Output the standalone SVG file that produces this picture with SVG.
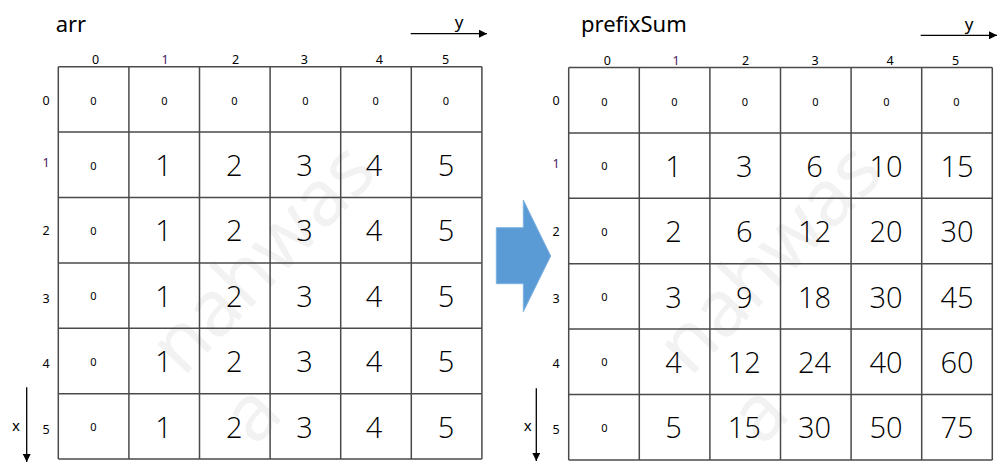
<svg xmlns="http://www.w3.org/2000/svg" width="1003" height="467" viewBox="0 0 1003 467">
<style>
text{font-family:"Noto Sans","Open Sans","DejaVu Sans",sans-serif;fill:#000}
.title{font-size:22px}
.hdr{font-size:12.5px;text-anchor:middle}
.z{font-size:11px;text-anchor:middle}
.big{font-family:"Open Sans","Noto Sans",sans-serif;font-weight:300;font-size:29px;text-anchor:middle}
.ax{font-size:15px;text-anchor:middle}
.ay{font-size:17px;text-anchor:middle}
.p{fill:#4a2260}
.grid line{stroke:#4a4a4a;stroke-width:1.5}
.wm{font-size:78px;fill:#f2f2f2}
.arr{stroke:#000;stroke-width:1.3;fill:none}
</style>
<defs>
<marker id="ah" viewBox="0 0 10 10" refX="10" refY="5" markerWidth="8" markerHeight="8" markerUnits="userSpaceOnUse" orient="auto">
<path d="M0,0 L10,5 L0,10 z" fill="#000"/>
</marker>
</defs>
<rect width="1003" height="467" fill="#fff"/>
<g id="watermark">
<g transform="translate(183,378) rotate(-46)"><text class="wm" x="0" y="0">nahwas</text><text class="wm" x="0" y="100">a</text></g>
<g transform="translate(690,378) rotate(-46)"><text class="wm" x="0" y="0">nahwas</text><text class="wm" x="0" y="100">a</text></g>
</g>
<g id="arr">
<text class="title" x="55.7" y="32">arr</text>
<g class="grid">
<line x1="58.3" y1="66.7" x2="58.3" y2="459.1"/><line x1="128.9" y1="66.7" x2="128.9" y2="459.1"/><line x1="199.5" y1="66.7" x2="199.5" y2="459.1"/><line x1="270.1" y1="66.7" x2="270.1" y2="459.1"/><line x1="340.7" y1="66.7" x2="340.7" y2="459.1"/><line x1="411.3" y1="66.7" x2="411.3" y2="459.1"/><line x1="481.9" y1="66.7" x2="481.9" y2="459.1"/>
<line x1="58.3" y1="66.7" x2="481.9" y2="66.7"/><line x1="58.3" y1="132.1" x2="481.9" y2="132.1"/><line x1="58.3" y1="197.5" x2="481.9" y2="197.5"/><line x1="58.3" y1="262.9" x2="481.9" y2="262.9"/><line x1="58.3" y1="328.3" x2="481.9" y2="328.3"/><line x1="58.3" y1="393.7" x2="481.9" y2="393.7"/><line x1="58.3" y1="459.1" x2="481.9" y2="459.1"/>
</g>
<text class="hdr" x="95.7" y="63.5">0</text><text class="hdr p" x="165" y="63.5">1</text><text class="hdr" x="235.7" y="63.5">2</text><text class="hdr" x="304.3" y="63.5">3</text><text class="hdr" x="379.3" y="63.5">4</text><text class="hdr" x="445.7" y="63.5">5</text>
<text class="hdr" x="46" y="104.5">0</text><text class="hdr p" x="46" y="166.8">1</text><text class="hdr" x="46" y="235.2">2</text><text class="hdr" x="46" y="302.8">3</text><text class="hdr" x="46" y="367.8">4</text><text class="hdr" x="46" y="433.5">5</text>
<text class="z" x="93.3" y="105">0</text><text class="z" x="164.3" y="105">0</text><text class="z" x="234.3" y="105">0</text><text class="z" x="305.3" y="105">0</text><text class="z" x="375.7" y="105">0</text><text class="z" x="446" y="105">0</text>
<text class="z" x="93.3" y="169.5">0</text><text class="z" x="93.3" y="234.8">0</text><text class="z" x="93.3" y="300.2">0</text><text class="z" x="93.3" y="365.6">0</text><text class="z" x="93.3" y="431">0</text>
<text class="big" x="163.5" y="176">1</text><text class="big" x="234.3" y="176">2</text><text class="big" x="304.5" y="176">3</text><text class="big" x="374" y="176">4</text><text class="big" x="446" y="176">5</text>
<text class="big" x="163.5" y="241.4">1</text><text class="big" x="234.3" y="241.4">2</text><text class="big" x="304.5" y="241.4">3</text><text class="big" x="374" y="241.4">4</text><text class="big" x="446" y="241.4">5</text>
<text class="big" x="163.5" y="306.8">1</text><text class="big" x="234.3" y="306.8">2</text><text class="big" x="304.5" y="306.8">3</text><text class="big" x="374" y="306.8">4</text><text class="big" x="446" y="306.8">5</text>
<text class="big" x="163.5" y="372.2">1</text><text class="big" x="234.3" y="372.2">2</text><text class="big" x="304.5" y="372.2">3</text><text class="big" x="374" y="372.2">4</text><text class="big" x="446" y="372.2">5</text>
<text class="big" x="163.5" y="437.6">1</text><text class="big" x="234.3" y="437.6">2</text><text class="big" x="304.5" y="437.6">3</text><text class="big" x="374" y="437.6">4</text><text class="big" x="446" y="437.6">5</text>
</g>
<g id="prefixSum">
<text class="title" x="581" y="32.3">prefixSum</text>
<g class="grid">
<line x1="568.7" y1="67.5" x2="568.7" y2="459.9"/><line x1="639.3" y1="67.5" x2="639.3" y2="459.9"/><line x1="709.9" y1="67.5" x2="709.9" y2="459.9"/><line x1="780.5" y1="67.5" x2="780.5" y2="459.9"/><line x1="851.1" y1="67.5" x2="851.1" y2="459.9"/><line x1="921.7" y1="67.5" x2="921.7" y2="459.9"/><line x1="992.3" y1="67.5" x2="992.3" y2="459.9"/>
<line x1="568.7" y1="67.5" x2="992.3" y2="67.5"/><line x1="568.7" y1="132.9" x2="992.3" y2="132.9"/><line x1="568.7" y1="198.3" x2="992.3" y2="198.3"/><line x1="568.7" y1="263.7" x2="992.3" y2="263.7"/><line x1="568.7" y1="329.1" x2="992.3" y2="329.1"/><line x1="568.7" y1="394.5" x2="992.3" y2="394.5"/><line x1="568.7" y1="459.9" x2="992.3" y2="459.9"/>
</g>
<text class="hdr" x="607.3" y="64.5">0</text><text class="hdr p" x="676" y="64.5">1</text><text class="hdr" x="745.7" y="64.5">2</text><text class="hdr" x="815" y="64.5">3</text><text class="hdr" x="890" y="64.5">4</text><text class="hdr" x="955.7" y="64.5">5</text>
<text class="hdr" x="556" y="105">0</text><text class="hdr p" x="556" y="167.5">1</text><text class="hdr" x="556" y="235.5">2</text><text class="hdr" x="556" y="303">3</text><text class="hdr" x="556" y="368">4</text><text class="hdr" x="556" y="433.5">5</text>
<text class="z" x="604.3" y="105.5">0</text><text class="z" x="674.3" y="105.5">0</text><text class="z" x="745" y="105.5">0</text><text class="z" x="815.5" y="105.5">0</text><text class="z" x="886.3" y="105.5">0</text><text class="z" x="956.5" y="105.5">0</text>
<text class="z" x="604.3" y="170.2">0</text><text class="z" x="604.3" y="235.6">0</text><text class="z" x="604.3" y="301">0</text><text class="z" x="604.3" y="366.4">0</text><text class="z" x="604.3" y="431.8">0</text>
<text class="big" x="673.5" y="176.8">1</text><text class="big" x="744.3" y="176.8">3</text><text class="big" x="814.5" y="176.8">6</text><text class="big" x="886" y="176.8">10</text><text class="big" x="957" y="176.8">15</text>
<text class="big" x="673.5" y="242.2">2</text><text class="big" x="744.3" y="242.2">6</text><text class="big" x="814.5" y="242.2">12</text><text class="big" x="886" y="242.2">20</text><text class="big" x="957" y="242.2">30</text>
<text class="big" x="673.5" y="307.6">3</text><text class="big" x="744.3" y="307.6">9</text><text class="big" x="814.5" y="307.6">18</text><text class="big" x="886" y="307.6">30</text><text class="big" x="957" y="307.6">45</text>
<text class="big" x="673.5" y="373">4</text><text class="big" x="744.3" y="373">12</text><text class="big" x="814.5" y="373">24</text><text class="big" x="886" y="373">40</text><text class="big" x="957" y="373">60</text>
<text class="big" x="673.5" y="438.4">5</text><text class="big" x="744.3" y="438.4">15</text><text class="big" x="814.5" y="438.4">30</text><text class="big" x="886" y="438.4">50</text><text class="big" x="957" y="438.4">75</text>
</g>
<g id="transform-arrow">
<polygon points="496.3,227.7 523.3,227.7 523.3,200 550.7,256 523.3,311.7 523.3,283.7 496.3,283.7" fill="#5b9bd5" stroke="#7fb2e0" stroke-width="1"/>
</g>
<g id="connectors">
<line class="arr" x1="410.7" y1="33.7" x2="487" y2="33.7" marker-end="url(#ah)"/>
<line class="arr" x1="920.7" y1="35.3" x2="997" y2="35.3" marker-end="url(#ah)"/>
<line class="arr" x1="26.7" y1="387.3" x2="26.7" y2="462" marker-end="url(#ah)"/>
<line class="arr" x1="536.3" y1="388.3" x2="536.3" y2="461" marker-end="url(#ah)"/>
</g>
<g id="axis-labels">
<text class="ay" x="459" y="28">y</text>
<text class="ay" x="969" y="29.5">y</text>
<text class="ax" x="16" y="431">x</text>
<text class="ax" x="527.7" y="431">x</text>
</g>
</svg>
